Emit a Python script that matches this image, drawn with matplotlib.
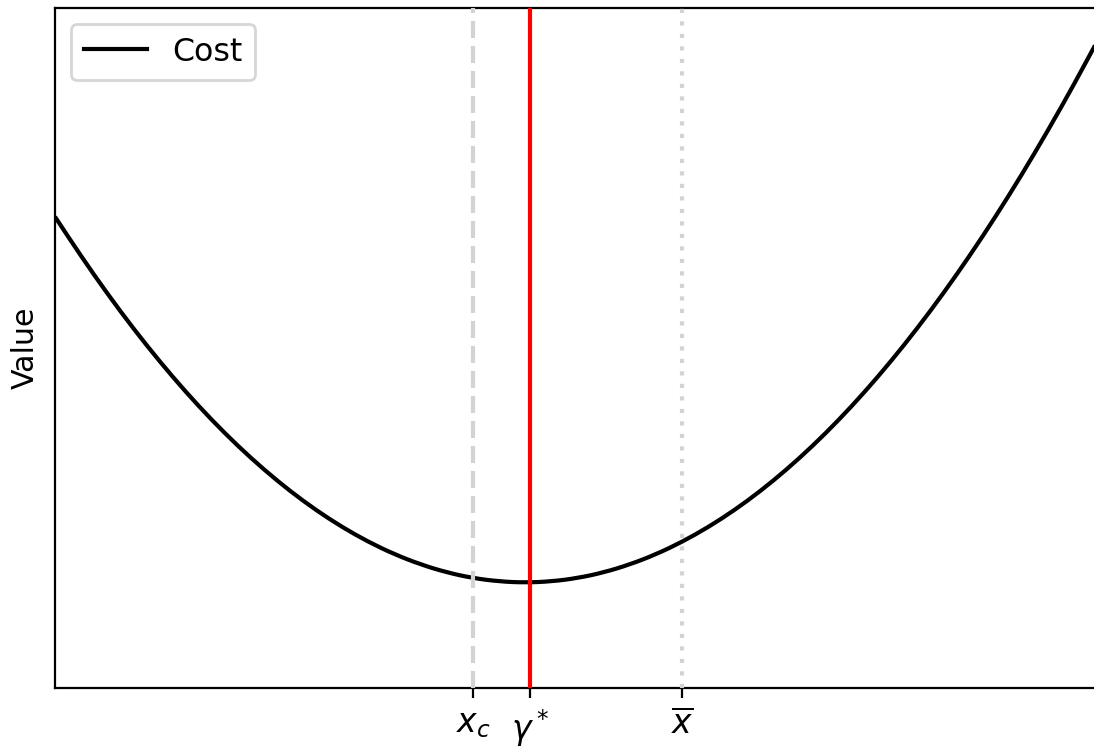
import numpy as np
import matplotlib
matplotlib.use("Agg")
import matplotlib.pyplot as plt
from matplotlib.path import Path
from matplotlib.patches import PathPatch
from matplotlib.lines import Line2D

# Cost sampled along the decision variable
x_vals = [0.0, 0.25, 0.5, 0.75, 1.0, 1.25, 1.5, 1.75, 2.0, 2.25, 2.5, 2.75,
          3.0, 3.25, 3.5, 3.75, 4.0, 4.25, 4.5, 4.75, 5.0, 5.25, 5.5, 5.75,
          6.0, 6.25, 6.5, 6.75, 7.0, 7.25, 7.5, 7.75, 8.0, 8.25, 8.5, 8.75,
          9.0, 9.25, 9.5, 9.75, 10.0]
cost_vals = [6.930, 6.349, 5.801, 5.286, 4.805, 4.356, 3.941, 3.559, 3.211,
             2.895, 2.613, 2.364, 2.148, 1.965, 1.816, 1.699, 1.616, 1.567,
             1.550, 1.567, 1.616, 1.699, 1.816, 1.965, 2.148, 2.364, 2.613,
             2.895, 3.211, 3.559, 3.941, 4.356, 4.805, 5.286, 5.801, 6.349,
             6.930, 7.545, 8.193, 8.873, 9.587]

# Reference points on the x axis
x_c = 4.0
gamma_star = 4.545
x_bar = 6.0
tick_positions = [x_c, gamma_star, x_bar]
tick_labels = [r"$x_c$", r"$\gamma^*$", r"$\overline{x}$"]


def smooth_path(xs, ys):
    """Quadratic-Bezier path through the samples (samples act as control
    points, midpoints lie on the curve), so the curve renders smoothly."""
    pts = np.column_stack([xs, ys])
    mids = (pts[:-1] + pts[1:]) / 2
    verts = [pts[0], mids[0]]
    codes = [Path.MOVETO, Path.LINETO]
    for i in range(1, len(pts) - 1):
        verts += [pts[i], mids[i]]
        codes += [Path.CURVE3, Path.CURVE3]
    verts.append(pts[-1])
    codes.append(Path.LINETO)
    return Path(verts, codes)


DPI = 200
fig = plt.figure(figsize=(1094 / DPI, 751 / DPI), dpi=DPI)
ax = fig.add_axes([55 / 1094, 63 / 751, 1045 / 1094, 680 / 751])

ax.add_patch(PathPatch(smooth_path(x_vals, cost_vals), facecolor="none",
                       edgecolor="black", lw=1.5, zorder=2))
ax.axvline(x_c, color="lightgray", lw=1.5, linestyle=(0, (4.1, 1.9)), zorder=3)
ax.axvline(gamma_star, color="red", lw=1.5, zorder=3)
ax.axvline(x_bar, color="lightgray", lw=1.5, linestyle=(0, (1.0, 2.0)), zorder=3)

ax.set_xlim(0, 10)
ax.set_ylim(0, 10)
ax.set_xticks(tick_positions)
ax.set_xticklabels(tick_labels, fontsize=11.9)
ax.set_yticks([])
ax.set_ylabel("Value", fontsize=10.8, labelpad=5.5)

cost_handle = Line2D([], [], color="black", lw=1.5)
ax.legend(handles=[cost_handle], labels=["Cost"], loc="upper left",
          fontsize=11.4)

fig.savefig("out.png", dpi=DPI)
